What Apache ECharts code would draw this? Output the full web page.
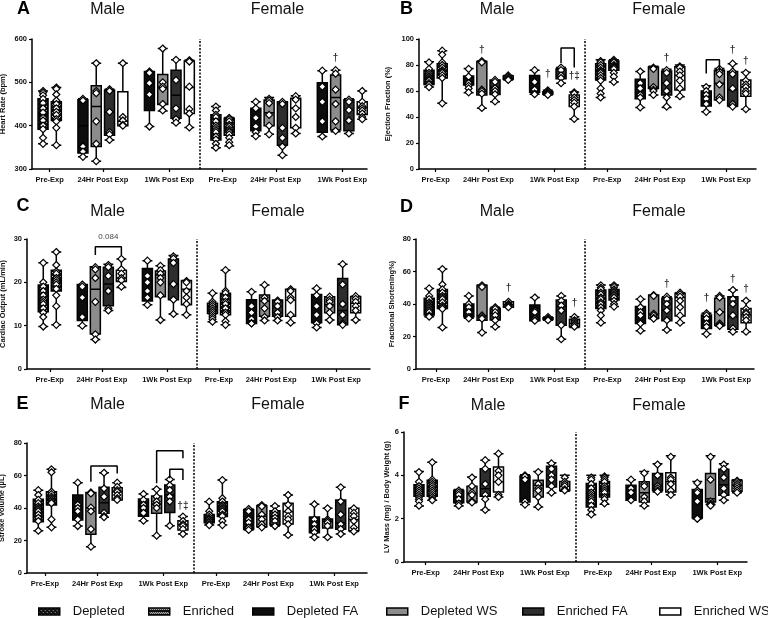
<!DOCTYPE html>
<html>
<head>
<meta charset="utf-8">
<script src="https://cdn.jsdelivr.net/npm/echarts@6.0.0/dist/echarts.min.js"></script>
<style>
  html, body { margin: 0; padding: 0; background: #fff; }
  #chart { width: 768px; height: 618px; }
</style>
</head>
<body>
<div id="chart"></div>
<script>
// box order inside each sex: Pre-Exp (Depleted, Enriched), 24Hr (DFA, DWS, EFA, EWS), 1Wk (DFA, DWS, EFA, EWS)
const sexTypes = ['Depleted', 'Enriched', 'Depleted FA', 'Depleted WS', 'Enriched FA', 'Enriched WS',
  'Depleted FA', 'Depleted WS', 'Enriched FA', 'Enriched WS'];
const slotType = sexTypes.concat(sexTypes);
const slotX = [0, 1, 3, 4, 5, 6, 8, 9, 10, 11, 13, 14, 16, 17, 18, 19, 21, 22, 23, 24];
const groupCenters = [0.5, 4.5, 9.5, 13.5, 17.5, 22.5];
const groupLabels = ['Pre-Exp', '24Hr Post Exp', '1Wk Post Exp', 'Pre-Exp', '24Hr Post Exp', '1Wk Post Exp'];
const legendNames = ['Depleted', 'Enriched', 'Depleted FA', 'Depleted WS', 'Enriched FA', 'Enriched WS'];
const sexNames = ['Male', 'Female'];
const dividerX = 11.8;

// [min, Q1, median, Q3, max]
const hrBox = [
  [358, 392, 425, 462, 480], [355, 412, 436, 455, 488],
  [328, 337, 400, 460, 462], [318, 352, 444, 492, 544], [367, 378, 431, 482, 484], [400, 400, 410, 478, 544],
  [398, 435, 498, 525, 525], [434, 449, 488, 518, 578], [407, 417, 470, 528, 552], [396, 428, 488, 549, 551],
  [349, 367, 394, 425, 444], [353, 378, 390, 417, 419],
  [376, 388, 415, 440, 455], [380, 400, 430, 459, 465], [332, 355, 394, 455, 455], [382, 395, 440, 463, 469],
  [375, 385, 455, 499, 527], [386, 390, 465, 517, 528], [382, 388, 436, 460, 462], [415, 426, 442, 455, 480]
];
const hrPts = [
  [480, 476, 470, 462, 452, 440, 430, 418, 412, 400, 392, 372, 358],
  [488, 485, 472, 458, 450, 440, 432, 425, 415, 410, 395, 355],
  [462, 458, 352, 340, 328], [544, 480, 475, 410, 358, 318], [484, 480, 432, 385, 380, 367], [544, 420, 412, 402, 400],
  [525, 522, 498, 472, 398], [578, 500, 490, 485, 450, 435], [552, 505, 440, 415, 407], [551, 548, 490, 438, 428, 396],
  [444, 435, 425, 420, 410, 400, 395, 390, 385, 375, 368, 358, 349],
  [418, 415, 410, 402, 398, 392, 388, 385, 380, 372, 362, 355],
  [455, 440, 418, 398, 385, 376], [462, 458, 452, 425, 400, 380], [455, 450, 395, 372, 352, 332], [468, 460, 440, 420, 395, 382],
  [527, 490, 455, 410, 375], [528, 520, 483, 450, 410, 388], [460, 455, 436, 412, 382], [480, 455, 445, 440, 435, 428, 420, 415]
];

const efBox = [
  [63, 65, 70.5, 76, 82.5], [50.5, 70, 75.5, 81, 91],
  [58.7, 64.6, 66, 71.5, 77.4], [46.7, 57, 59.5, 82.6, 83], [51.8, 57.4, 63, 68.5, 68.5], [68.5, 69, 70, 71.5, 72],
  [57.5, 59, 66, 72, 76], [57, 57.5, 58.5, 59.5, 60.5], [66, 69.5, 72, 77, 78], [38.5, 48, 53, 57, 59.2],
  [55, 68.5, 75, 81, 84], [67, 76, 80, 83, 84],
  [47.4, 54, 62, 69, 75], [57, 62, 63, 78.5, 79], [47.4, 57, 66, 75.4, 76.7], [55.6, 60.8, 72, 78.7, 80],
  [44, 48.5, 55.6, 60, 64], [53, 53, 66, 76, 77.4], [48, 48.5, 61, 75, 81], [46, 56, 63, 68.5, 74.5]
];
const efPts = [
  [82, 77, 74, 72.5, 71, 70, 69, 68, 66, 65, 63],
  [91, 88, 82, 80, 78, 76, 75, 74, 72, 70, 50.5],
  [77, 71, 66, 64, 62, 59], [83, 82, 61, 60, 58, 47], [68.5, 67, 62, 60, 57.5, 52], [72, 71, 70, 69, 68.5],
  [76, 67, 61, 58, 57.5], [60.5, 59.5, 58.5, 58, 57], [78, 76, 72, 70, 66], [59, 58, 55, 53, 51, 48, 38.5],
  [83, 82, 80, 78, 76, 75, 74, 72, 70, 68, 62, 58, 55],
  [84, 83, 82, 80, 79, 78, 77, 74, 71, 67],
  [75, 66, 62, 57, 55, 47.4], [78, 77, 63, 61, 60, 57], [76, 74, 66, 60, 55, 48], [79, 78, 75, 72, 68, 62, 56],
  [63, 60, 57, 54, 50, 44], [77, 75, 73, 65, 55, 53], [81, 75, 73, 62, 50, 48], [74, 68, 65, 63, 60, 58, 46]
];

const coBox = [
  [9.8, 13.2, 16, 19.4, 24.5], [10.2, 18, 20.5, 22.8, 27],
  [10, 11.2, 16.5, 19.5, 19.5], [6.8, 8.1, 18.4, 23.6, 23.6], [13.5, 14.6, 19.6, 23.5, 24.2], [18.8, 20.2, 21, 22.8, 25.4],
  [14.8, 15.7, 20, 23.2, 25], [11.3, 16.7, 21.7, 22.6, 23.8], [12.7, 16, 19.6, 25.4, 26.2], [12.5, 14.8, 18.4, 20.4, 20.4],
  [10.9, 12.8, 14.2, 15.2, 17.5], [10.2, 12.5, 15.2, 17.5, 22.8],
  [10.5, 10.5, 13, 16, 17.8], [11.2, 12.2, 15.7, 17.1, 19.4], [11.2, 12.2, 14.4, 15.9, 15.9], [10.7, 12.2, 15.9, 18.4, 18.4],
  [9.6, 10.7, 14.5, 17.2, 18.6], [11.3, 13, 14.8, 16.7, 16.7], [10.2, 10.2, 13.5, 20.9, 24.2], [11.3, 13, 15.2, 16.7, 16.8]
];
const coPts = [
  [24.5, 20, 19, 18, 17, 16, 15.5, 15, 14, 13, 12, 9.8],
  [27, 24, 22.5, 22, 21, 20.5, 20, 19.5, 18.5, 17, 14.5, 10.2],
  [19.5, 19, 16.5, 12, 10], [23.5, 23, 21, 15.5, 8, 6.8], [24, 23.5, 21.5, 18, 14, 13.5], [25.4, 23, 22, 21, 20.5, 19],
  [25, 21.5, 20, 18, 16.5, 14.8], [23.8, 22.8, 22, 21, 20, 17, 11.3], [26, 25.5, 24.5, 19.6, 16, 12.7], [20.3, 20, 18, 16.5, 15, 12.5],
  [17.5, 15.5, 15, 14.5, 14, 13.5, 13, 12.5, 12, 11.5, 10.9],
  [22.8, 18, 17.5, 16.5, 15.5, 15, 14, 13, 12.5, 11, 10.2],
  [17.8, 14.5, 13, 11.5, 10.6, 10.5], [19.4, 16.5, 15.7, 14, 12, 11.2], [15.8, 15.5, 14.5, 13, 12, 11.2], [18.4, 18, 16.5, 15.9, 12.5, 10.7],
  [18.6, 17, 14.5, 12.5, 10.5, 9.6], [16.7, 16, 15.5, 14.5, 13, 11.3], [24.2, 19.5, 15, 12.5, 10.5, 10.2], [16.8, 16.2, 15.5, 14.5, 13.5, 11.3]
];

const fsBox = [
  [32.2, 33.2, 39.4, 43.5, 49.6], [25.6, 37.3, 44.5, 49, 61.5],
  [31.2, 32.2, 36, 40, 45], [22.4, 30, 32.6, 51.5, 51.7], [26, 30.1, 34.3, 37.3, 38], [38, 38, 39.5, 41.4, 41.4],
  [29.7, 29.7, 35, 39.4, 44], [30, 30.4, 31, 31.6, 32], [18.3, 27, 38.4, 42.5, 45], [25.6, 26, 28, 30.6, 32.2],
  [28.5, 37.3, 43.5, 48.6, 51.7], [38.4, 42.5, 46.6, 49, 51.7],
  [23.6, 28, 33, 38.4, 43], [31, 31.2, 33.5, 45.5, 45.5], [24, 29.7, 36.3, 43.5, 44.5], [28.5, 32.6, 44, 46.6, 47],
  [21.5, 25, 30, 33.2, 34.3], [26.5, 27, 35.3, 43.5, 45], [23, 24.4, 32.2, 44.5, 48.6], [23, 28.5, 33.2, 37.3, 42]
];
const fsPts = [
  [49.6, 45, 43, 41, 40, 39, 38, 37, 36, 35, 33, 32.2],
  [61.5, 52, 49, 47, 45, 44, 43, 41, 39, 38, 37, 25.6],
  [45, 40, 38, 35, 32, 31.2], [51.5, 50.5, 33, 32, 31, 22.4], [38, 37, 35, 33, 30, 26], [41.4, 40, 39.5, 39, 38.5, 38],
  [44, 36, 35, 31, 30, 29.7], [32, 31, 30.5, 30], [45, 42, 39, 36, 27, 18.3], [32, 30, 29, 28, 27, 26],
  [51.5, 50, 49, 47, 46, 44, 43, 41, 40, 38, 36, 33, 28.5],
  [51.5, 50.5, 49, 48, 47, 46, 45, 44, 42, 40, 38.4],
  [43, 38, 35, 33, 28, 23.6], [45.5, 45, 34, 33, 31.5, 31], [44.5, 43, 40, 36, 30, 24], [47, 46, 44.5, 42, 38, 33, 28.5],
  [34.3, 33, 31, 28, 26, 21.5], [45, 44, 35, 28, 27, 26.5], [48.6, 43, 40, 33, 25, 23], [42, 37, 35, 34, 32, 30, 23]
];

const svBox = [
  [26, 31.6, 38, 45.4, 51], [28.1, 41.8, 47, 50, 63.8],
  [28.9, 32.6, 40, 48, 55.6], [16.2, 23.8, 40.2, 49.6, 49.6], [34.3, 36.7, 43.3, 52.7, 61.7], [44.9, 44.9, 50, 52.5, 55.6],
  [32.2, 35, 41, 45.5, 48.6], [23, 36.7, 42.5, 47.4, 51.5], [29.1, 37.3, 48.2, 54.2, 57.6], [24, 26.5, 29.7, 32.2, 34.7],
  [29.5, 31, 33, 36, 43.9], [29.5, 34.7, 40, 43.9, 57.2],
  [26.5, 27, 33, 39, 39.4], [28.1, 28.5, 35, 41.4, 41.8], [28.9, 29.5, 34.9, 38.3, 41.2], [23.4, 30.2, 37.7, 43, 48],
  [22, 24.8, 30, 34.5, 42.3], [22, 27.7, 31.8, 33.2, 39.8], [24, 26.9, 30.8, 44.9, 52.7], [25.6, 26, 33, 39.8, 39.8]
];
const svPts = [
  [51, 48, 45, 43, 41, 40, 39, 38, 36, 34, 32, 26],
  [63.8, 62, 50, 48.5, 47, 46, 45, 44, 43, 33, 28.1],
  [55.6, 42, 40, 38, 33, 28.9], [49.6, 49, 40.2, 38, 27, 16.2], [61.7, 52, 47, 37, 35, 34.3], [55.6, 53, 51, 50, 48, 46, 45],
  [48.6, 45, 42, 40, 37, 32.2], [51.5, 47, 44, 42, 40, 23], [57.6, 54, 51, 47, 44, 29.1], [34.7, 32, 30, 29, 27, 24],
  [43.9, 38, 36, 34.5, 33.5, 33, 32, 31, 30, 29.5],
  [57.2, 46, 44, 42, 41, 40, 39, 38, 36, 35, 32, 29.5],
  [39.4, 38, 33, 31, 28, 26.5], [41.8, 41, 36, 33, 30, 28.1], [41.2, 38, 36, 34, 32, 28.9], [48, 42, 38, 35, 33, 30, 23.4],
  [42.3, 33, 30, 27, 25, 22], [39.8, 33, 32, 31, 29, 22], [52.7, 44, 36, 30, 27, 24], [39.8, 37, 35, 32, 28, 25.6]
];

const lvBox = [
  [2.58, 3.03, 3.26, 3.57, 4.18], [2.85, 3.03, 3.46, 3.77, 4.6],
  [2.58, 2.74, 3.1, 3.3, 3.35], [2.74, 2.77, 3.15, 3.5, 3.92], [2.4, 3.03, 3.38, 4.3, 4.7], [3.0, 3.23, 3.7, 4.38, 5.0],
  [2.65, 2.77, 3.8, 3.97, 4.03], [2.54, 3.0, 3.54, 3.77, 4.18], [3.18, 3.46, 4.0, 4.42, 4.58], [3.26, 3.3, 3.5, 3.72, 4.0],
  [2.18, 2.54, 3.0, 3.62, 4.0], [2.66, 3.0, 3.38, 3.72, 4.0],
  [2.85, 2.85, 3.2, 3.54, 3.8], [2.58, 2.77, 3.2, 3.7, 4.18], [3.23, 3.3, 3.54, 4.08, 4.54], [3.1, 3.23, 3.7, 4.12, 4.9],
  [2.0, 2.03, 2.8, 3.35, 3.72], [2.65, 2.77, 2.92, 4.08, 4.9], [2.85, 3.08, 3.57, 4.28, 4.54], [3.2, 3.26, 3.54, 3.77, 3.8]
];
const lvPts = [
  [4.15, 3.7, 3.5, 3.4, 3.3, 3.2, 3.1, 3.0, 2.9, 2.8, 2.6],
  [4.6, 3.8, 3.7, 3.6, 3.5, 3.4, 3.3, 3.2, 3.1, 3.0, 2.9, 2.85],
  [3.3, 3.2, 3.1, 2.9, 2.7, 2.6], [3.9, 3.5, 3.2, 3.1, 2.8, 2.75], [4.7, 4.3, 3.6, 3.1, 2.9, 2.4], [5.0, 4.2, 4.0, 3.7, 3.1, 3.0],
  [4.0, 3.95, 3.8, 2.8, 2.65], [4.15, 3.6, 3.4, 3.3, 3.0, 2.55], [4.55, 4.3, 4.0, 3.8, 3.5, 3.2], [3.9, 3.7, 3.6, 3.5, 3.35, 3.3],
  [3.9, 3.8, 3.6, 3.4, 3.2, 3.1, 3.0, 2.9, 2.8, 2.6, 2.4, 2.2],
  [3.95, 3.9, 3.8, 3.7, 3.5, 3.4, 3.3, 3.2, 3.0, 2.9, 2.7],
  [3.8, 3.4, 3.2, 2.9, 2.85], [4.1, 3.6, 3.5, 3.0, 2.8, 2.6], [4.5, 4.0, 3.5, 3.4, 3.3, 3.25], [4.85, 3.9, 3.8, 3.6, 3.3, 3.1],
  [3.65, 3.3, 3.2, 2.8, 2.0, 2.0], [4.85, 3.8, 2.8, 2.7, 2.65, 2.6], [4.5, 4.3, 3.9, 3.4, 3.1, 2.85], [3.75, 3.7, 3.6, 3.5, 3.4, 3.3, 3.2]
];

// significance marks [slot, value, text]
const annA = [[22, 556, '†']];
const annB = [[4, 91, '†'], [9, 73, '†'], [11, 71, '†‡'], [18, 85, '†'], [23, 91, '†'], [24, 83, '†']];
const annC = [];
const annD = [[6, 49.6, '†'], [11, 40.4, '†'], [18, 52, '†'], [21, 43.5, '†'], [23, 55, '†'], [24, 49, '†']];
const annE = [[11, 41, '†‡']];
const annF = [];
const noteC = [[5, 30.6, '0.084']];

// brackets as [slot, value] corners
const brB = [
  [[10, 81.5], [10, 93], [11, 93], [11, 78]],
  [[21, 73.5], [21, 84], [22, 84], [22, 76]]
];
const brC = [[[4, 26.3], [4, 28.2], [6, 28.2], [6, 26.3]]];
const brE = [
  [[4, 56.2], [4, 65.8], [6, 65.8], [6, 61.3]],
  [[9, 55.2], [9, 75.3], [11, 75.3], [11, 70.6]],
  [[10, 58.3], [10, 63.8], [11, 63.8], [11, 57.2]]
];

function pattern(rows, light) {
  const c = document.createElement('canvas');
  c.width = rows[0].length;
  c.height = rows.length;
  const g = c.getContext('2d');
  rows.forEach((r, y) => {
    r.split('').forEach((ch, x) => {
      g.fillStyle = ch === '#' ? light : '#111';
      g.fillRect(x, y, 1, 1);
    });
  });
  return { image: c, repeat: 'repeat' };
}

const fills = {
  'Depleted': pattern(['#...', '....', '..#.', '....'], '#9a9a9a'),
  'Enriched': pattern(['#.#.', '.#.#', '....', '....'], '#e0e0e0'),
  'Depleted FA': '#0d0d0d',
  'Depleted WS': '#8c8c8c',
  'Enriched FA': '#2e2e2e',
  'Enriched WS': '#ffffff'
};

const panels = [
  { letter: 'A', yName: 'Heart Rate (bpm)', box: hrBox, pts: hrPts, ann: annA, notes: [], br: [],
    min: 300, max: 600, step: 100, grid: { left: 32, top: 39, width: 335, height: 130 }, xmin: -0.83, xmax: 24.36,
    nameGap: 25, letterPos: [23.5, 9], sexPos: [[107.5, 10], [277.5, 10]] },
  { letter: 'B', yName: 'Ejection Fraction (%)', box: efBox, pts: efPts, ann: annB, notes: [], br: brB,
    min: 0, max: 100, step: 20, grid: { left: 419, top: 39, width: 337, height: 130 }, xmin: -0.76, xmax: 24.77,
    nameGap: 27, letterPos: [406.5, 9], sexPos: [[497, 10], [659, 10]] },
  { letter: 'C', yName: 'Cardiac Output (mL/min)', box: coBox, pts: coPts, ann: annC, notes: noteC, br: brC,
    min: 0, max: 30, step: 10, grid: { left: 27, top: 239, width: 343, height: 130 }, xmin: -1.25, xmax: 25.1,
    nameGap: 20, letterPos: [23, 206.5], sexPos: [[107.5, 211.5], [278, 211.5]] },
  { letter: 'D', yName: 'Fractional Shortening%)', box: fsBox, pts: fsPts, ann: annD, notes: [], br: [],
    min: 0, max: 80, step: 20, grid: { left: 416, top: 239, width: 338, height: 130 }, xmin: -1.0, xmax: 24.6,
    nameGap: 20, letterPos: [406.5, 207.5], sexPos: [[497, 211.5], [659, 211.5]] },
  { letter: 'E', yName: 'Stroke Volume (µL)', box: svBox, pts: svPts, ann: annE, notes: [], br: brE,
    min: 0, max: 80, step: 20, grid: { left: 27, top: 443, width: 340, height: 130 }, xmin: -0.86, xmax: 25,
    nameGap: 21, letterPos: [22.5, 404], sexPos: [[107.5, 405], [278, 405]] },
  { letter: 'F', yName: 'LV Mass (mg) / Body Weight (g)', box: lvBox, pts: lvPts, ann: annF, notes: [], br: [],
    min: 0, max: 6, step: 2, grid: { left: 404, top: 432, width: 343, height: 130 }, xmin: -1.13, xmax: 24.75,
    nameGap: 12, letterPos: [404, 404], sexPos: [[488, 406], [659, 406]] }
];

const legendLeft = [33, 143, 247, 381, 517, 654];
const font = 'Liberation Sans, Arial, sans-serif';
const black = '#000';

const option = {
  animation: false,
  grid: [], xAxis: [], yAxis: [], series: [], legend: [], graphic: []
};

panels.forEach((p, i) => {
  option.grid.push(Object.assign({ outerBoundsMode: 'none' }, p.grid));
  option.xAxis.push({
    type: 'value', gridIndex: i, min: p.xmin, max: p.xmax,
    axisLine: { onZero: false, lineStyle: { color: black, width: 1.5 } },
    axisTick: { show: true, customValues: groupCenters, length: 3, lineStyle: { color: black, width: 1.2 } },
    axisLabel: {
      customValues: groupCenters, margin: 7, fontSize: 7.5, fontWeight: 'bold', color: '#111', fontFamily: font,
      formatter: v => groupLabels[groupCenters.indexOf(v)] || ''
    },
    splitLine: { show: false }
  });
  option.yAxis.push({
    type: 'value', gridIndex: i, min: p.min, max: p.max, interval: p.step,
    name: p.yName, nameLocation: 'middle', nameGap: p.nameGap,
    nameTextStyle: { fontSize: 7.5, fontWeight: 'bold', color: '#111', fontFamily: font },
    axisLine: { show: true, onZero: false, lineStyle: { color: black, width: 1.5 } },
    axisTick: { show: true, length: 3, lineStyle: { color: black, width: 1.2 } },
    axisLabel: { margin: 5, fontSize: 7.5, fontWeight: 'bold', color: '#111', fontFamily: font },
    splitLine: { show: false }
  });

  option.series.push({
    type: 'boxplot', xAxisIndex: i, yAxisIndex: i, silent: true, boxWidth: [10, 10],
    data: p.box.map((b, j) => ({
      value: [slotX[j]].concat(b),
      itemStyle: { color: fills[slotType[j]], borderColor: black, borderWidth: 1.5 }
    }))
  });

  const pts = [];
  p.pts.forEach((arr, j) => arr.forEach(v => pts.push([slotX[j], v])));
  option.series.push({
    type: 'scatter', xAxisIndex: i, yAxisIndex: i, silent: true, z: 5,
    symbol: 'diamond', symbolSize: 7,
    itemStyle: { color: '#fff', borderColor: black, borderWidth: 1.2, opacity: 1 },
    data: pts,
    markLine: {
      silent: true, symbol: ['none', 'none'], label: { show: false },
      lineStyle: { color: black, width: 1.5, type: [2, 1.5] },
      data: [{ xAxis: dividerX }]
    }
  });

  p.br.forEach(b => {
    option.series.push({
      type: 'line', xAxisIndex: i, yAxisIndex: i, silent: true, z: 6,
      symbol: 'none', lineStyle: { color: black, width: 1.5 }, data: b
    });
  });

  option.series.push({
    type: 'scatter', xAxisIndex: i, yAxisIndex: i, silent: true, z: 7, clip: false,
    symbolSize: 1, itemStyle: { color: 'rgba(0,0,0,0)' },
    label: { show: true, position: 'inside', formatter: '{b}', fontSize: 10, fontWeight: 'bold', color: black, fontFamily: font },
    data: p.ann.map(a => ({ name: a[2], value: [a[0], a[1]] }))
  });
  if (p.notes.length) {
    option.series.push({
      type: 'scatter', xAxisIndex: i, yAxisIndex: i, silent: true, z: 7, clip: false,
      symbolSize: 1, itemStyle: { color: 'rgba(0,0,0,0)' },
      label: { show: true, position: 'inside', formatter: '{b}', fontSize: 8, color: '#111', fontFamily: font },
      data: p.notes.map(a => ({ name: a[2], value: [a[0], a[1]] }))
    });
  }

  option.graphic.push({
    type: 'text', x: p.letterPos[0], y: p.letterPos[1], silent: true,
    style: { text: p.letter, font: 'bold 18px ' + font, fill: black, align: 'center', verticalAlign: 'middle', textAlign: 'center', textVerticalAlign: 'middle' }
  });
  sexNames.forEach((s, k) => {
    option.graphic.push({
      type: 'text', x: p.sexPos[k][0], y: p.sexPos[k][1], silent: true,
      style: { text: s, font: '16px ' + font, fill: '#111', align: 'center', verticalAlign: 'middle', textAlign: 'center', textVerticalAlign: 'middle' }
    });
  });
});

legendNames.forEach((n, i) => {
  option.series.push({
    type: 'bar', name: n, xAxisIndex: 0, yAxisIndex: 0, data: [],
    itemStyle: { color: fills[n], borderColor: black, borderWidth: 1.5 }
  });
  option.legend.push({
    data: [n], left: legendLeft[i], top: 600, selectedMode: false,
    icon: 'rect', itemWidth: 21, itemHeight: 7,
    itemStyle: { borderColor: black, borderWidth: 1.5 },
    textStyle: { fontSize: 13, color: '#111', fontFamily: font, padding: [0, 0, 0, 8] }
  });
});

const chart = echarts.init(document.getElementById('chart'), null, { renderer: 'canvas' });
chart.setOption(option);
</script>
</body>
</html>
